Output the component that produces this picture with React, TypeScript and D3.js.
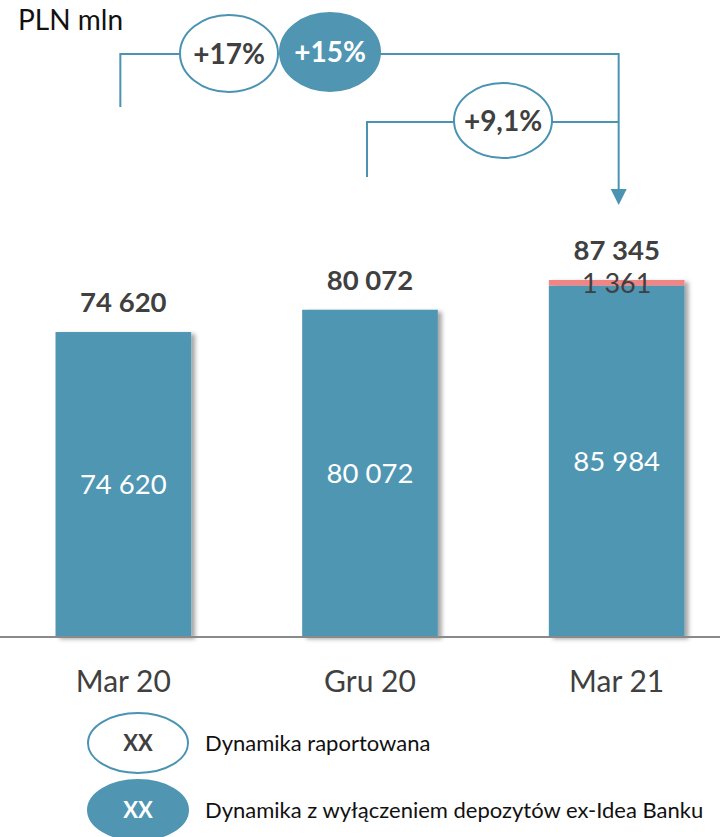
import React from "react";
import * as d3 from "d3";

// data
const categories = ["Mar 20", "Gru 20", "Mar 21"];
const baseValues = [74620, 80072, 85984];
const ideaValues = [0, 0, 1361];
const reportedGrowth = ["+17%", "+9,1%"];
const exIdeaGrowth = ["+15%"];
const legendLabels = [
  "Dynamika raportowana",
  "Dynamika z wyłączeniem depozytów ex-Idea Banku",
];

const W = 720;
const H = 837;
const BLUE = "#5096B3";
const LINE = "#4A93B2";
const PINK = "#EF8585";
const DARK = "#404040";
const FONT = "Lato, 'Open Sans', sans-serif";

const fmt = (v: number) => d3.format(",")(v).replace(/,/g, " ");

export default function App() {
  const x = d3
    .scaleBand<string>()
    .domain(categories)
    .range([0, 740])
    .paddingInner(0.45)
    .paddingOuter(0.225);
  const y = d3.scaleLinear().domain([0, 100000]).range([637, 228.3]);

  const totals = baseValues.map((v, i) => v + ideaValues[i]);
  const cx = (c: string) => (x(c) ?? 0) + x.bandwidth() / 2;

  // bracket geometry (layout only)
  const topY = 54;
  const midY = 122;
  const leftX = cx(categories[0]) - 3;
  const midX = cx(categories[1]) - 3;
  const rightX = cx(categories[2]) + 2;

  const ellipse = (
    ex: number,
    ey: number,
    label: string,
    filled: boolean,
    rx = 49,
    ry = 38.5,
    fs = 28
  ) => (
    <g key={label + ex}>
      <ellipse
        cx={ex}
        cy={ey}
        rx={rx}
        ry={ry}
        fill={filled ? BLUE : "#fff"}
        stroke={filled ? BLUE : LINE}
        strokeWidth={2}
      />
      <text
        x={ex}
        y={ey}
        dy="0.36em"
        textAnchor="middle"
        fontWeight="bold"
        fontSize={fs}
        fill={filled ? "#fff" : DARK}
      >
        {label}
      </text>
    </g>
  );

  return (
    <svg
      width={W}
      height={H}
      style={{ position: "absolute", left: 0, top: 0, fontFamily: FONT }}
    >
      <defs>
        <filter id="shadow" x="-10%" y="-10%" width="130%" height="120%">
          <feDropShadow dx="4" dy="2" stdDeviation="2" floodColor="#000" floodOpacity="0.35" />
        </filter>
      </defs>
      <rect width={W} height={H} fill="#fff" />

      <text x={18} y={30} fontSize={28} fill="#111">
        PLN mln
      </text>

      {/* growth brackets */}
      <path
        d={`M${leftX},107 V${topY} H${rightX} V192`}
        fill="none"
        stroke={LINE}
        strokeWidth={2}
      />
      <path
        d={`M${midX},177 V${midY} H${rightX}`}
        fill="none"
        stroke={LINE}
        strokeWidth={2}
      />
      <path
        d={`M${rightX - 8},189 L${rightX + 8},189 L${rightX},205 Z`}
        fill={LINE}
      />
      {ellipse(229, 53.5, reportedGrowth[0], false)}
      {ellipse(330, 52, exIdeaGrowth[0], true, 50, 39)}
      {ellipse(503, 120.5, reportedGrowth[1], false, 49, 37.5)}

      {/* bars */}
      {categories.map((c, i) => {
        const x0 = x(c) ?? 0;
        const bw = x.bandwidth();
        const baseTop = y(baseValues[i]);
        const totTop = y(totals[i]);
        return (
          <g key={c}>
            <g filter="url(#shadow)">
              <rect x={x0} y={baseTop} width={bw} height={y(0) - baseTop} fill={BLUE} />
              {ideaValues[i] > 0 && (
                <rect x={x0} y={totTop} width={bw} height={baseTop - totTop} fill={PINK} />
              )}
            </g>
            <text
              x={cx(c)}
              y={(baseTop + y(0)) / 2}
              dy="0.36em"
              textAnchor="middle"
              fontSize={27.5}
              fill="#fff"
            >
              {fmt(baseValues[i])}
            </text>
            {ideaValues[i] > 0 && (
              <text
                x={cx(c)}
                y={(totTop + baseTop) / 2}
                dy="0.36em"
                textAnchor="middle"
                fontSize={27}
                fill={DARK}
              >
                {fmt(ideaValues[i])}
              </text>
            )}
            <text
              x={cx(c)}
              y={totTop - 30}
              dy="0.36em"
              textAnchor="middle"
              fontSize={27.5}
              fontWeight="bold"
              fill={DARK}
            >
              {fmt(totals[i])}
            </text>
            <text
              x={cx(c)}
              y={681}
              dy="0.36em"
              textAnchor="middle"
              fontSize={30}
              fill={DARK}
            >
              {c}
            </text>
          </g>
        );
      })}

      <line x1={0} x2={W} y1={y(0)} y2={y(0)} stroke="#8a8a8a" strokeWidth={2} />

      {/* legend */}
      {legendLabels.map((l, i) => {
        const ly = 743 + i * 67;
        return (
          <g key={l}>
            {ellipse(138, ly, "XX", i === 1, 50, 30, 22)}
            <text x={205} y={ly} dy="0.36em" fontSize={22} fill="#111">
              {l}
            </text>
          </g>
        );
      })}
    </svg>
  );
}
